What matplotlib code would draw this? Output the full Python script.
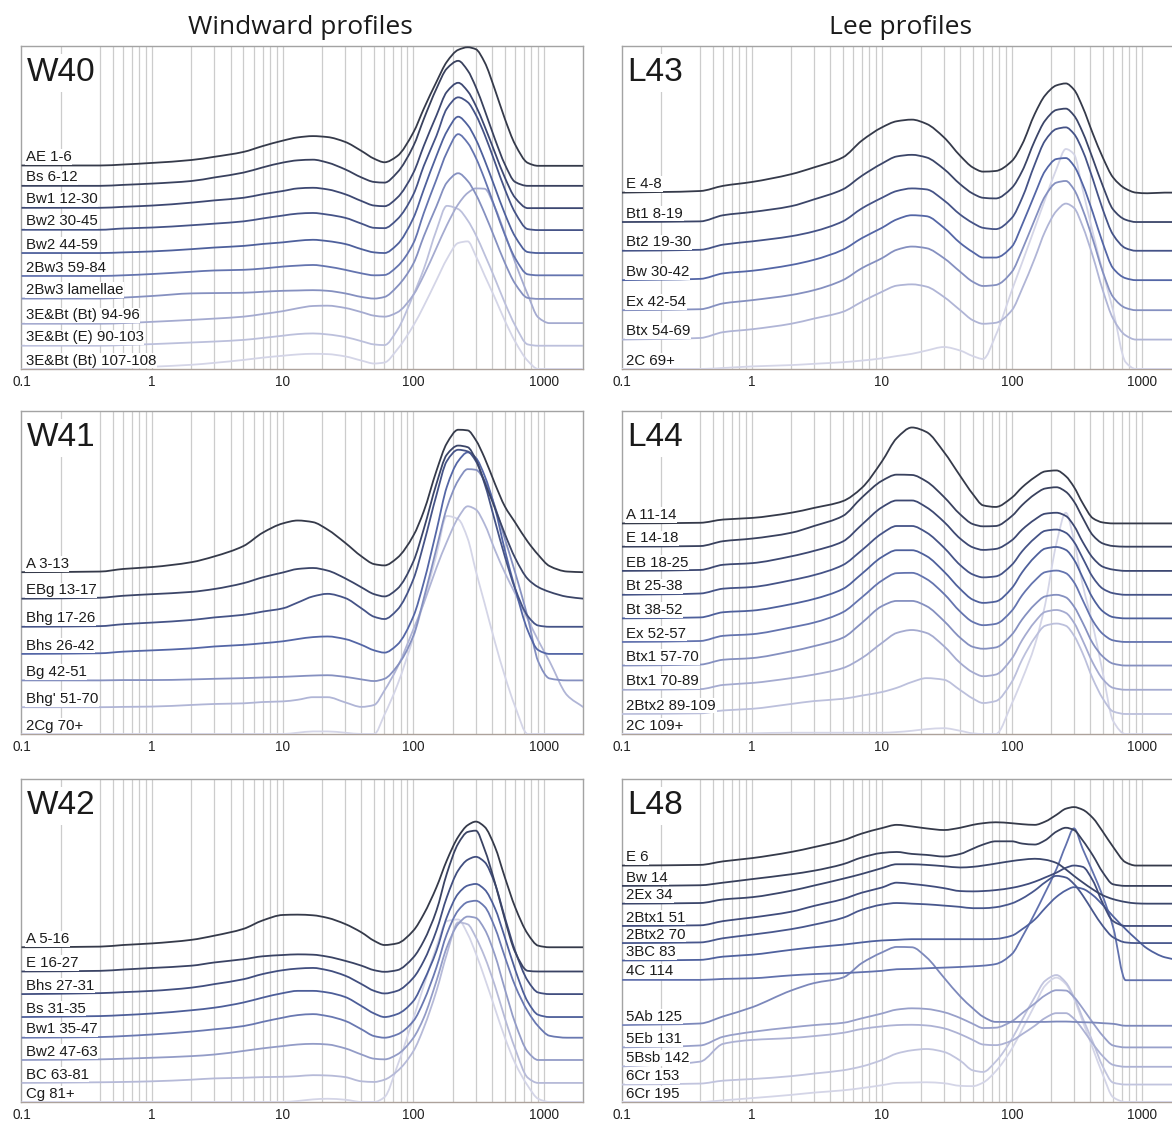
import numpy as np
import matplotlib.pyplot as plt
from matplotlib.colors import LinearSegmentedColormap
from matplotlib.path import Path
from matplotlib.patches import PathPatch

plt.rcParams['font.family'] = ['Liberation Sans', 'DejaVu Sans']

# grain size classes (micrometres) shared by all profiles
size_um = [0.1, 0.4, 0.6, 1, 2, 3, 5, 7, 10, 13, 17, 22, 30, 40, 50, 60, 75,
           100, 120, 150, 180, 220, 260, 300, 350, 420, 500, 600, 750, 900,
           1100, 1500, 2000]

# stacked frequency curves, one list per horizon (top to bottom)
w40_labels = ['AE 1-6', 'Bs 6-12', 'Bw1 12-30', 'Bw2 30-45', 'Bw2 44-59',
              '2Bw3 59-84', '2Bw3 lamellae', '3E&Bt (Bt) 94-96',
              '3E&Bt (E) 90-103', '3E&Bt (Bt) 107-108']
w40_curves = [
    [63.0, 63.0, 63.3, 63.8, 64.7, 65.7, 67.2, 69.0, 70.7, 71.7, 72.1, 71.8, 70.3, 67.5, 65.1, 64.0, 65.9,
     73.3, 80.6, 88.9, 95.1, 98.8, 99.6, 99.0, 95.0, 86.5, 77.5, 69.5, 63.8, 62.9, 62.9, 62.9, 62.9],
    [56.7, 56.7, 57.0, 57.4, 58.2, 59.3, 60.8, 62.4, 63.9, 64.6, 64.8, 63.9, 61.8, 59.3, 57.9, 57.7, 60.8,
     69.1, 77.4, 86.8, 93.0, 95.4, 92.4, 87.3, 80.2, 71.2, 63.4, 57.9, 56.7, 56.7, 56.7, 56.7, 56.7],
    [49.9, 49.9, 50.2, 50.6, 51.5, 52.2, 53.0, 54.1, 55.1, 55.9, 56.1, 55.6, 54.1, 52.0, 50.6, 50.4, 53.0,
     60.8, 69.1, 78.5, 85.8, 88.6, 86.0, 81.5, 75.2, 67.0, 59.3, 53.0, 49.8, 49.8, 49.8, 49.8, 49.8],
    [43.1, 43.1, 43.5, 43.8, 44.5, 45.0, 45.7, 46.6, 47.5, 48.1, 48.3, 47.8, 46.8, 45.0, 43.7, 43.6, 46.3,
     54.1, 62.9, 72.2, 80.6, 84.1, 82.6, 78.7, 72.6, 64.0, 55.7, 48.4, 43.3, 43.0, 43.0, 43.0, 43.0],
    [35.9, 35.9, 36.1, 36.4, 37.1, 37.6, 38.1, 38.7, 39.2, 39.7, 40.0, 39.6, 38.7, 37.1, 36.1, 35.9, 38.5,
     46.8, 55.6, 66.0, 73.5, 78.1, 75.5, 71.1, 64.7, 56.2, 48.1, 41.0, 36.2, 35.9, 35.9, 35.9, 35.9],
    [28.8, 28.8, 29.0, 29.4, 30.1, 30.5, 30.7, 31.1, 31.7, 32.0, 32.2, 31.7, 30.7, 29.6, 29.0, 29.1, 31.7,
     39.0, 48.3, 58.7, 67.0, 72.7, 70.0, 65.4, 58.8, 50.0, 41.6, 34.3, 29.3, 29.0, 29.0, 29.0, 29.0],
    [21.8, 21.8, 22.1, 22.6, 23.4, 23.5, 23.6, 23.9, 24.2, 24.3, 24.4, 24.2, 23.4, 22.3, 21.8, 22.3, 25.5,
     32.7, 41.1, 50.4, 57.7, 60.6, 58.2, 54.1, 48.2, 40.4, 32.9, 26.4, 22.0, 21.7, 21.7, 21.7, 21.7],
    [14.0, 14.0, 14.2, 14.6, 15.2, 15.6, 16.2, 17.0, 17.9, 18.8, 19.5, 19.6, 18.9, 17.6, 16.5, 16.2, 17.5,
     23.0, 29.0, 37.5, 44.5, 51.0, 54.5, 55.9, 55.8, 50.0, 42.0, 33.0, 23.0, 16.0, 14.2, 14.2, 14.2],
    [7.2, 7.2, 7.4, 7.7, 8.2, 8.5, 9.0, 9.6, 10.3, 10.8, 11.0, 10.7, 9.9, 8.6, 7.6, 7.4, 12.0,
     23.0, 31.0, 43.0, 50.5, 49.5, 46.0, 41.5, 35.5, 28.0, 20.5, 13.5, 7.6, 7.2, 7.2, 7.2, 7.2],
    [0, 0, 0.3, 0.7, 1.3, 1.9, 2.8, 3.5, 4.1, 4.5, 4.7, 4.6, 3.9, 2.6, 1.7, 2.0, 6.0,
     13.5, 19.5, 27.5, 34.0, 39.0, 39.5, 35.0, 29.0, 22.0, 15.0, 8.5, 2.5, 0, 0, 0, 0],
]

w41_labels = ['A 3-13', 'EBg 13-17', 'Bhg 17-26', 'Bhs 26-42', 'Bg 42-51',
              "Bhg' 51-70", '2Cg 70+']
w41_curves = [
    [50.1, 50.3, 51.1, 51.7, 53.2, 55.0, 58.2, 62.3, 65.2, 66.1, 65.6, 63.3, 59.2, 55.0, 52.6, 52.2, 54.5,
     61.5, 69.0, 81.5, 90.0, 94.2, 94.0, 91.0, 85.5, 77.5, 70.5, 65.5, 59.5, 55.5, 52.0, 50.3, 50.1],
    [41.9, 42.2, 42.8, 43.3, 44.0, 44.9, 46.7, 48.5, 50.0, 51.1, 51.4, 50.6, 48.2, 45.4, 43.3, 42.6, 44.9,
     53.5, 63.5, 77.5, 86.5, 89.3, 88.8, 85.0, 78.0, 70.0, 62.0, 54.5, 48.0, 45.5, 44.0, 42.5, 41.9],
    [33.2, 33.4, 34.0, 34.5, 35.3, 36.1, 36.9, 37.9, 38.9, 40.7, 42.6, 43.4, 42.1, 38.9, 36.3, 35.6, 38.4,
     48.0, 59.0, 74.0, 84.5, 88.0, 87.5, 84.5, 77.5, 66.0, 55.0, 45.0, 36.5, 33.6, 33.2, 33.2, 33.2],
    [24.8, 25.0, 25.5, 25.9, 26.5, 27.1, 27.6, 28.1, 28.7, 29.4, 30.0, 30.2, 29.4, 27.6, 25.9, 25.2, 27.6,
     36.5, 47.0, 63.0, 76.5, 84.5, 87.2, 85.5, 80.0, 70.0, 57.0, 45.0, 32.0, 26.0, 24.8, 24.8, 24.8],
    [16.6, 16.6, 16.7, 16.7, 16.9, 17.1, 17.3, 17.5, 17.7, 17.9, 18.1, 18.2, 17.7, 16.9, 16.4, 17.1, 21.0,
     30.5, 42.0, 57.5, 70.0, 78.5, 82.0, 81.8, 78.5, 70.5, 60.5, 50.0, 36.0, 22.5, 17.2, 16.6, 16.6],
    [8.3, 8.3, 8.4, 8.5, 9.0, 9.3, 9.5, 9.9, 10.1, 10.6, 11.4, 11.4, 9.8, 8.4, 9.0, 13.5, 20.5,
     32.5, 40.5, 51.5, 59.5, 67.0, 70.5, 69.5, 65.0, 57.0, 50.0, 43.5, 35.5, 29.0, 22.5, 12.0, 8.3],
    [0, 0, 0, 0, 0, 0, 0, 0, 0, 0.4, 0.8, 0.8, 0.4, 0, 0, 6.0, 15.0,
     30.0, 41.0, 55.5, 67.5, 66.5, 60.5, 50.5, 40.5, 28.5, 18.0, 8.5, 0, 0, 0, 0, 0],
]

w42_labels = ['A 5-16', 'E 16-27', 'Bhs 27-31', 'Bs 31-35', 'Bw1 35-47',
              'Bw2 47-63', 'BC 63-81', 'Cg 81+']
w42_curves = [
    [47.9, 48.1, 48.6, 49.1, 50.2, 51.5, 53.6, 56.2, 57.9, 58.0, 57.8, 57.0, 55.1, 52.5, 49.9, 48.6, 49.1,
     53.1, 58.2, 66.5, 74.8, 82.1, 85.7, 86.8, 85.2, 79.0, 69.6, 60.3, 52.0, 48.4, 47.9, 47.9, 47.9],
    [40.4, 40.6, 41.0, 41.5, 42.2, 43.2, 44.2, 45.1, 45.5, 45.7, 45.6, 45.0, 43.7, 42.2, 40.8, 40.3, 40.8,
     44.8, 49.9, 59.3, 70.7, 80.0, 83.6, 84.0, 78.2, 67.9, 56.6, 46.4, 40.6, 40.4, 40.4, 40.4, 40.4],
    [33.4, 33.7, 34.0, 34.4, 35.4, 36.5, 38.0, 39.6, 40.8, 41.3, 41.5, 40.8, 39.1, 36.5, 34.4, 33.6, 34.4,
     38.5, 43.7, 53.1, 63.4, 71.7, 75.0, 75.9, 74.3, 67.6, 57.2, 46.8, 37.5, 33.9, 33.4, 33.4, 33.4],
    [26.3, 26.6, 26.9, 27.4, 28.4, 29.2, 30.8, 32.3, 33.7, 34.4, 34.4, 33.9, 32.5, 29.7, 27.4, 26.3, 27.2,
     31.3, 37.5, 46.8, 57.2, 64.5, 67.0, 67.5, 65.8, 60.0, 51.0, 41.0, 31.0, 27.0, 26.3, 26.3, 26.3],
    [19.9, 20.1, 20.4, 20.9, 21.8, 22.5, 23.5, 24.8, 26.1, 26.9, 27.2, 26.6, 25.1, 22.5, 20.4, 19.9, 20.9,
     25.1, 31.3, 41.7, 52.0, 59.3, 61.9, 62.3, 60.5, 54.0, 45.0, 36.0, 28.0, 23.5, 20.5, 19.9, 19.9],
    [13.0, 13.2, 13.4, 13.7, 14.2, 14.7, 15.8, 16.6, 17.3, 17.8, 18.0, 17.8, 16.6, 14.7, 13.4, 13.2, 14.7,
     19.9, 26.1, 37.5, 47.9, 55.1, 57.4, 57.0, 53.5, 45.5, 35.0, 24.5, 15.5, 13.0, 13.0, 13.0, 13.0],
    [5.9, 6.1, 6.2, 6.4, 6.9, 7.3, 7.5, 7.7, 7.8, 8.0, 8.3, 8.2, 7.7, 6.4, 6.2, 6.9, 9.5,
     15.8, 23.0, 34.4, 45.8, 55.6, 55.0, 51.0, 45.0, 36.0, 26.0, 16.5, 7.5, 5.9, 5.9, 5.9, 5.9],
    [0, 0, 0, 0, 0, 0, 0, 0, 0, 0.3, 0.8, 1.0, 0.7, 0, 0, 1.5, 11.0,
     26.0, 36.0, 48.0, 56.0, 56.5, 52.0, 46.0, 38.5, 29.0, 20.0, 12.0, 5.0, 1.0, 0, 0, 0],
]

l43_labels = ['E 4-8', 'Bt1 8-19', 'Bt2 19-30', 'Bw 30-42', 'Ex 42-54',
              'Btx 54-69', '2C 69+']
l43_curves = [
    [54.6, 55.1, 56.7, 57.9, 60.3, 62.4, 65.5, 70.7, 74.8, 76.7, 77.2, 75.9, 71.7, 66.0, 62.4, 61.1, 61.3,
     64.4, 69.6, 79.0, 84.7, 87.8, 88.4, 86.5, 81.1, 72.8, 65.5, 59.3, 55.8, 54.6, 54.4, 54.6, 54.6],
    [45.5, 45.7, 47.6, 48.6, 50.4, 52.5, 55.6, 59.8, 63.6, 65.8, 66.3, 65.5, 61.9, 57.2, 54.3, 53.0, 52.8,
     56.1, 61.3, 70.7, 76.9, 80.2, 80.6, 78.5, 73.3, 65.0, 56.7, 49.4, 46.2, 45.5, 45.5, 45.5, 45.5],
    [36.6, 36.9, 38.5, 39.5, 41.1, 42.6, 45.7, 49.7, 53.0, 55.1, 55.9, 55.6, 52.2, 47.8, 45.2, 43.7, 43.3,
     46.8, 53.0, 63.4, 70.7, 74.3, 74.8, 72.8, 67.6, 58.7, 49.4, 41.6, 37.4, 36.6, 36.6, 36.6, 36.6],
    [27.5, 27.9, 29.6, 30.4, 32.2, 33.8, 36.9, 40.5, 43.7, 46.3, 47.6, 47.3, 43.7, 39.0, 36.2, 34.5, 34.5,
     37.9, 44.7, 54.1, 61.3, 65.0, 65.3, 62.9, 57.2, 48.3, 39.0, 31.2, 28.1, 27.5, 27.5, 27.5, 27.5],
    [18.2, 18.5, 20.3, 21.3, 22.9, 24.4, 27.5, 31.2, 34.3, 36.9, 37.9, 37.4, 34.3, 30.1, 27.0, 25.7, 26.0,
     30.1, 36.9, 46.3, 53.5, 57.7, 58.2, 55.6, 49.4, 40.0, 30.1, 22.3, 18.9, 18.2, 18.2, 18.2, 18.2],
    [9.1, 9.6, 11.4, 12.3, 14.0, 15.6, 17.7, 20.8, 23.9, 25.8, 26.2, 25.5, 22.3, 18.2, 15.1, 14.0, 14.3,
     18.2, 24.9, 34.3, 42.6, 48.9, 51.2, 49.9, 44.2, 34.8, 24.4, 15.6, 10.4, 9.1, 9.1, 9.1, 9.1],
    [0, 0, 0.3, 0.8, 1.2, 1.6, 2.1, 2.6, 3.3, 4.0, 4.7, 5.7, 6.8, 5.7, 4.0, 3.1, 10.4,
     24.4, 33.0, 43.7, 52.5, 61.9, 68.1, 66.5, 55.6, 42.1, 30.1, 18.2, 2.1, 0, 0, 0, 0],
]

l44_labels = ['A 11-14', 'E 14-18', 'EB 18-25', 'Bt 25-38', 'Bt 38-52',
              'Ex 52-57', 'Btx1 57-70', 'Btx1 70-89', '2Btx2 89-109', '2C 109+']
l44_curves = [
    [65.2, 65.4, 66.4, 66.9, 68.5, 70.0, 72.1, 76.2, 84.4, 91.6, 94.9, 93.5, 87.3, 79.9, 74.3, 70.8, 70.3,
     73.2, 76.4, 79.5, 81.3, 81.6, 79.8, 76.5, 71.5, 66.8, 65.5, 65.2, 65.2, 65.2, 65.2, 65.2, 65.2],
    [58.0, 58.2, 59.7, 60.5, 62.3, 64.4, 67.5, 73.2, 78.4, 80.3, 80.2, 78.2, 73.4, 68.0, 65.0, 64.3, 64.4,
     67.5, 70.9, 74.2, 76.0, 76.4, 75.0, 72.0, 67.0, 61.5, 59.0, 58.2, 58.0, 58.0, 58.0, 58.0, 58.0],
    [50.5, 50.8, 52.4, 52.9, 55.0, 56.7, 59.6, 64.8, 70.2, 72.3, 72.3, 70.2, 65.7, 60.5, 57.8, 57.0, 57.3,
     60.0, 63.3, 66.4, 68.2, 68.5, 67.5, 64.5, 59.5, 54.5, 51.8, 50.9, 50.5, 50.5, 50.5, 50.5, 50.5],
    [43.1, 43.5, 45.0, 45.5, 47.6, 49.2, 52.3, 56.9, 62.1, 64.4, 64.4, 62.4, 57.7, 52.3, 49.4, 48.5, 48.8,
     52.4, 56.6, 60.6, 62.9, 63.3, 62.3, 59.5, 54.5, 48.5, 45.0, 43.6, 43.1, 43.1, 43.1, 43.1, 43.1],
    [35.8, 36.1, 37.7, 38.2, 40.2, 41.8, 44.9, 49.6, 54.8, 56.9, 56.9, 55.1, 50.3, 44.9, 41.6, 40.6, 41.0,
     45.2, 50.1, 54.8, 57.4, 57.9, 57.0, 54.0, 48.5, 42.0, 38.0, 36.2, 35.8, 35.8, 35.8, 35.8, 35.8],
    [28.5, 28.8, 30.4, 30.9, 33.0, 34.5, 37.7, 42.3, 47.5, 49.8, 49.9, 48.0, 43.4, 37.9, 34.7, 33.7, 34.1,
     38.2, 43.0, 47.5, 50.1, 50.6, 49.8, 47.0, 41.5, 35.0, 31.0, 29.0, 28.5, 28.5, 28.5, 28.5, 28.5],
    [21.2, 21.5, 23.0, 23.5, 25.6, 27.2, 29.8, 34.4, 39.6, 41.2, 41.2, 39.6, 35.0, 29.8, 27.0, 26.4, 26.8,
     30.8, 35.5, 40.1, 42.6, 43.1, 42.3, 39.5, 34.5, 28.0, 24.0, 21.8, 21.2, 21.2, 21.2, 21.2, 21.2],
    [13.7, 13.9, 15.2, 15.8, 17.3, 18.4, 20.4, 23.5, 28.2, 31.3, 32.2, 31.3, 27.2, 22.0, 19.1, 17.9, 18.4,
     23.4, 29.1, 34.7, 37.8, 38.4, 37.5, 34.5, 29.0, 22.0, 17.0, 14.3, 13.7, 13.7, 13.7, 13.7, 13.7],
    [6.2, 6.4, 7.3, 7.8, 9.3, 10.2, 10.9, 11.9, 13.0, 14.3, 16.1, 17.3, 16.8, 13.6, 11.0, 9.6, 10.2,
     16.2, 23.1, 29.8, 33.5, 34.2, 33.5, 30.5, 25.0, 17.0, 11.0, 7.0, 6.2, 6.2, 6.2, 6.2, 6.2],
    [0, 0, 0, 0.2, 0.4, 0.4, 0.4, 0.4, 0.4, 0.6, 1.0, 1.5, 1.8, 1.0, 0.2, 0, 0,
     9.5, 17.0, 27.5, 40.0, 59.0, 68.5, 60.0, 46.3, 33.6, 19.0, 4.1, 0, 0, 0, 0, 0],
]

l48_labels = ['E 6', 'Bw 14', '2Ex 34', '2Btx1 51', '2Btx2 70', '3BC 83',
              '4C 114', '5Ab 125', '5Eb 131', '5Bsb 142', '6Cr 153', '6Cr 195']
l48_curves = [
    [73.2, 73.4, 74.5, 75.5, 77.4, 78.9, 81.0, 83.1, 84.8, 85.8, 85.3, 84.7, 84.2, 84.9, 85.8, 86.3, 86.6,
     86.3, 86.0, 85.8, 86.8, 88.9, 90.8, 91.3, 90.5, 87.9, 83.7, 79.0, 74.2, 73.2, 73.2, 73.2, 73.2],
    [66.9, 67.1, 67.9, 69.0, 70.5, 71.6, 73.6, 75.7, 77.1, 77.4, 76.8, 76.5, 76.0, 76.8, 78.4, 79.7, 80.7,
     80.7, 80.0, 79.7, 81.0, 83.7, 84.9, 84.2, 81.0, 76.3, 71.1, 67.4, 66.9, 66.9, 66.9, 66.9, 66.9],
    [61.4, 61.6, 62.7, 63.4, 65.4, 67.0, 69.1, 70.6, 72.4, 73.6, 73.6, 73.4, 73.0, 72.6, 72.8, 73.2, 73.8,
     74.6, 75.0, 75.3, 75.0, 74.0, 72.0, 70.0, 68.0, 65.8, 64.0, 62.8, 61.9, 61.5, 61.4, 61.4, 61.4],
    [54.5, 54.7, 56.0, 57.1, 58.9, 60.7, 62.8, 64.8, 66.4, 67.9, 67.5, 67.0, 66.2, 65.3, 65.2, 65.3, 65.6,
     66.3, 67.0, 68.2, 69.5, 71.0, 72.5, 73.2, 72.8, 68.5, 61.5, 56.0, 54.5, 54.5, 54.5, 54.5, 54.5],
    [49.2, 49.4, 50.7, 51.8, 53.5, 54.9, 57.0, 59.5, 61.1, 61.6, 61.4, 61.2, 60.8, 60.4, 60.0, 60.0, 60.3,
     61.5, 63.0, 65.5, 68.0, 70.0, 69.5, 67.5, 64.0, 59.0, 54.5, 51.0, 49.4, 49.2, 49.2, 49.2, 49.2],
    [43.8, 44.0, 45.0, 45.6, 47.1, 47.9, 48.7, 49.4, 50.0, 50.2, 50.4, 50.4, 50.4, 50.4, 50.4, 50.4, 50.5,
     51.5, 53.5, 56.5, 60.0, 63.5, 65.5, 66.5, 66.0, 64.0, 61.0, 57.5, 53.5, 50.5, 47.5, 44.8, 43.8],
    [37.8, 37.8, 38.1, 38.3, 39.2, 39.6, 39.9, 40.2, 40.6, 41.1, 41.2, 41.4, 41.6, 41.8, 42.0, 42.2, 42.7,
     45.8, 51.1, 58.4, 64.8, 72.1, 79.5, 84.7, 78.4, 71.1, 63.7, 54.2, 37.7, 37.7, 37.7, 37.7, 37.7],
    [23.8, 24.3, 26.5, 29.3, 34.5, 36.8, 38.5, 43.0, 46.3, 48.0, 47.9, 44.8, 38.5, 32.7, 29.0, 26.4, 24.8,
     24.8, 24.8, 24.8, 24.8, 24.9, 24.9, 24.8, 24.7, 24.6, 24.4, 24.2, 23.6, 23.6, 23.6, 23.6, 23.6],
    [16.9, 17.5, 20.2, 21.7, 23.1, 23.8, 24.5, 25.9, 27.4, 28.6, 29.0, 28.8, 27.8, 26.0, 24.2, 22.9, 23.0,
     25.0, 27.5, 30.5, 33.0, 34.6, 34.5, 32.5, 29.0, 24.5, 20.5, 17.5, 16.9, 16.9, 16.9, 16.9, 16.9],
    [11.0, 12.5, 18.0, 19.2, 19.8, 20.4, 21.4, 22.6, 23.4, 23.8, 23.9, 23.7, 22.8, 21.0, 19.2, 17.8, 17.6,
     19.0, 21.0, 23.6, 26.0, 27.5, 27.5, 25.8, 22.5, 18.0, 14.2, 11.5, 10.9, 10.9, 10.9, 10.9, 10.9],
    [5.4, 5.7, 6.6, 7.1, 8.0, 8.8, 9.8, 11.0, 13.0, 15.0, 16.0, 16.4, 15.5, 12.8, 9.8, 9.3, 12.5,
     19.5, 25.5, 32.5, 37.5, 39.3, 37.0, 32.5, 26.0, 18.5, 11.0, 6.0, 5.4, 5.4, 5.4, 5.4, 5.4],
    [0, 0, 0.5, 1.2, 2.2, 2.9, 3.6, 4.3, 5.2, 5.9, 6.0, 6.1, 5.8, 5.0, 4.9, 6.0, 9.5,
     16.5, 22.5, 30.0, 36.0, 38.5, 36.5, 32.0, 25.0, 16.5, 8.5, 1.5, 0, 0, 0, 0, 0],
]

tick_pos = [0.1, 1, 10, 100, 1000]
tick_txt = ['0.1', '1', '10', '100', '1000']

ramp = LinearSegmentedColormap.from_list(
    'profile', ['#353a4a', '#3e4a78', '#5366a6', '#9ea5cd', '#d4d5e7'])


def smoothed_path(xs, ys):
    # monotone cubic (pchip-style) bezier through the points, built in log-x
    lx = np.log10(np.asarray(xs, float))
    y = np.asarray(ys, float)
    h = np.diff(lx)
    d = np.diff(y) / h
    m = np.zeros(len(lx))
    m[0], m[-1] = d[0], d[-1]
    for k in range(1, len(lx) - 1):
        if d[k - 1] * d[k] > 0:
            w1 = 2 * h[k] + h[k - 1]
            w2 = h[k] + 2 * h[k - 1]
            m[k] = (w1 + w2) / (w1 / d[k - 1] + w2 / d[k])
    verts = [(lx[0], y[0])]
    codes = [Path.MOVETO]
    for k in range(len(lx) - 1):
        verts.append((lx[k] + h[k] / 3, y[k] + m[k] * h[k] / 3))
        verts.append((lx[k + 1] - h[k] / 3, y[k + 1] - m[k + 1] * h[k] / 3))
        verts.append((lx[k + 1], y[k + 1]))
        codes += [Path.CURVE4] * 3
    verts = np.array(verts)
    verts[:, 0] = 10 ** verts[:, 0]
    return Path(verts, codes)


def draw_profile(ax, name, labels, curves):
    ax.set_xscale('log')
    ax.set_xlim(0.1, 2000)
    ax.set_ylim(0, 100)

    # vertical guide lines (no line at 0.3)
    for dec in [0.1, 1, 10, 100]:
        for m in range(1, 10):
            if dec == 0.1 and m in (1, 3):
                continue
            ax.axvline(dec * m, color='#cccccc', lw=0.9, zorder=0)
    ax.axvline(1000, color='#cccccc', lw=0.9, zorder=0)

    colors = ramp(np.linspace(0, 1, len(curves)))
    for vals, c in reversed(list(zip(curves, colors))):
        ax.add_patch(PathPatch(smoothed_path(size_um, vals), fill=False,
                               edgecolor=c, lw=1.3, zorder=3))
    for lab, vals in zip(labels, curves):
        ax.annotate(lab, xy=(size_um[0], vals[0]), xytext=(3.0, 1.0),
                    textcoords='offset points', ha='left', va='bottom',
                    fontsize=10.8, color='#1c1c1c', zorder=6,
                    bbox=dict(boxstyle='square,pad=0.05', fc='white', ec='none'))

    ax.text(0.01, 0.965, name, transform=ax.transAxes, ha='left', va='top',
            fontsize=24, color='#1a1a1a', zorder=7,
            bbox=dict(boxstyle='square,pad=0.1', fc='white', ec='none'))

    ax.set_xticks(tick_pos)
    ax.set_xticklabels(tick_txt)
    ax.xaxis.set_minor_locator(plt.NullLocator())
    ax.set_yticks([])
    ax.tick_params(axis='x', length=0, pad=4, labelsize=9.8, labelcolor='#222222')
    for s in ax.spines.values():
        s.set_color('#a3a3a3')
        s.set_linewidth(1.0)
    ax.spines['bottom'].set_color('#ada29b')


fig = plt.figure(figsize=(11.72, 11.27), dpi=100)

col_x = [0.01834, 0.5307]
col_w = [0.4795, 0.4770]
row_y = [0.6726, 0.3487, 0.0222]
row_h = 0.2866

panels = [
    (0, 0, 'W40', w40_labels, w40_curves),
    (0, 1, 'W41', w41_labels, w41_curves),
    (0, 2, 'W42', w42_labels, w42_curves),
    (1, 0, 'L43', l43_labels, l43_curves),
    (1, 1, 'L44', l44_labels, l44_curves),
    (1, 2, 'L48', l48_labels, l48_curves),
]
for col, row, name, labels, curves in panels:
    ax = fig.add_axes([col_x[col], row_y[row], col_w[col], row_h])
    draw_profile(ax, name, labels, curves)

fig.text(0.256, 0.976, 'Windward profiles', ha='center', va='center',
         fontsize=19, family=['Open Sans', 'DejaVu Sans'], color='#1a1a1a')
fig.text(0.768, 0.976, 'Lee profiles', ha='center', va='center',
         fontsize=19, family=['Open Sans', 'DejaVu Sans'], color='#1a1a1a')

fig.savefig('out.png', dpi=100)
